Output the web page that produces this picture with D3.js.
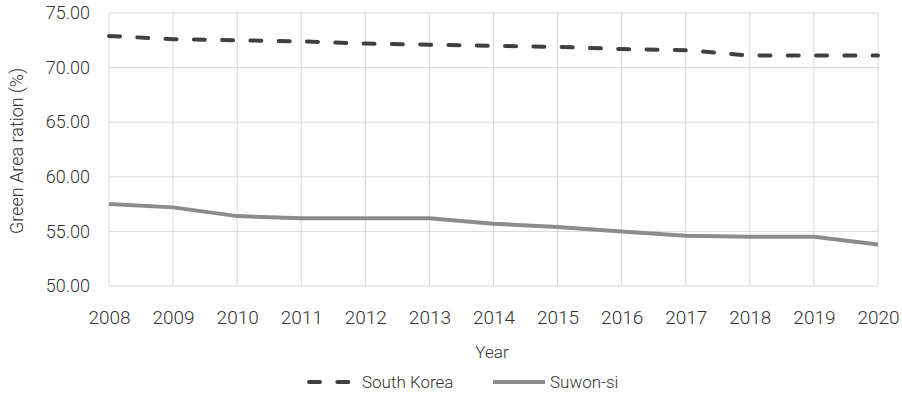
<!DOCTYPE html>
<html>
<head>
<meta charset="utf-8">
<script src="https://cdn.jsdelivr.net/npm/d3@7"></script>
<style>
  body { margin: 0; background: #fff; }
  text { font-family: Roboto, sans-serif; font-weight: 300; fill: #333; }
</style>
</head>
<body>
<div id="chart"></div>
<script>
// chart data
var years = [2008, 2009, 2010, 2011, 2012, 2013, 2014, 2015, 2016, 2017, 2018, 2019, 2020];
var southKorea = [72.9, 72.6, 72.5, 72.4, 72.2, 72.1, 72.0, 71.9, 71.7, 71.6, 71.1, 71.1, 71.1];
var suwon = [57.5, 57.2, 56.4, 56.2, 56.2, 56.2, 55.7, 55.4, 55.0, 54.6, 54.5, 54.5, 53.8];
var yTicks = [50, 55, 60, 65, 70, 75];

var svgWidth = 902;
var svgHeight = 396;

var margin = { top: 13, right: 24, bottom: 110, left: 109 };
var chartWidth = svgWidth - margin.left - margin.right;
var chartHeight = svgHeight - margin.top - margin.bottom;

var svg = d3.select("#chart")
  .append("svg")
  .attr("width", svgWidth)
  .attr("height", svgHeight);

var chartGroup = svg.append("g")
  .attr("transform", `translate(${margin.left}, ${margin.top})`);

var x = d3.scaleLinear()
  .domain([years[0], years[years.length - 1]])
  .range([0, chartWidth]);

var y = d3.scaleLinear()
  .domain([50, 75])
  .range([chartHeight, 0]);

// gridlines
chartGroup.append("g")
  .selectAll("line.h")
  .data(yTicks)
  .enter()
  .append("line")
  .attr("x1", 0)
  .attr("x2", chartWidth)
  .attr("y1", d => y(d))
  .attr("y2", d => y(d))
  .attr("stroke", "#d9d9d9")
  .attr("stroke-width", 1);

chartGroup.append("g")
  .selectAll("line.v")
  .data(years)
  .enter()
  .append("line")
  .attr("x1", d => x(d))
  .attr("x2", d => x(d))
  .attr("y1", 0)
  .attr("y2", chartHeight)
  .attr("stroke", "#d9d9d9")
  .attr("stroke-width", 1);

// axes
var leftAxis = d3.axisLeft(y).tickValues(yTicks).tickFormat(d3.format(".2f")).tickSize(0).tickPadding(19);
var bottomAxis = d3.axisBottom(x).tickValues(years).tickFormat(d3.format("d")).tickSize(0).tickPadding(25);

var yAxisG = chartGroup.append("g").call(leftAxis);
yAxisG.select(".domain").remove();
yAxisG.selectAll("text")
  .attr("font-size", "18px")
  .attr("font-family", "Roboto, sans-serif")
  .attr("fill", "#333");

var xAxisG = chartGroup.append("g")
  .attr("transform", `translate(0, ${chartHeight})`)
  .call(bottomAxis);
xAxisG.select(".domain").remove();
xAxisG.selectAll("text")
  .attr("font-size", "19px")
  .attr("font-family", "Roboto, sans-serif")
  .attr("fill", "#333");

// lines
var line = d3.line()
  .x((d, i) => x(years[i]))
  .y(d => y(d));

chartGroup.append("path")
  .datum(suwon)
  .attr("d", line)
  .attr("fill", "none")
  .attr("stroke", "#8c8c8c")
  .attr("stroke-width", 4);

chartGroup.append("path")
  .datum(southKorea)
  .attr("d", line)
  .attr("fill", "none")
  .attr("stroke", "#404040")
  .attr("stroke-width", 4)
  .attr("stroke-linecap", "round")
  .attr("stroke-dasharray", "11,17.3");

// axis titles
svg.append("text")
  .attr("x", 492)
  .attr("y", 358)
  .attr("text-anchor", "middle")
  .attr("font-size", "17px")
  .text("Year");

svg.append("text")
  .attr("transform", `translate(23, 151) rotate(-90)`)
  .attr("text-anchor", "middle")
  .attr("font-size", "18px")
  .text("Green Area ration (%)");

// legend
var legend = svg.append("g");
legend.append("line")
  .attr("x1", 309).attr("x2", 352)
  .attr("y1", 382).attr("y2", 382)
  .attr("stroke", "#404040")
  .attr("stroke-width", 4)
  .attr("stroke-linecap", "round")
  .attr("stroke-dasharray", "11,17.3");
legend.append("text")
  .attr("x", 362).attr("y", 388)
  .attr("font-size", "17px")
  .text("South Korea");
legend.append("line")
  .attr("x1", 493).attr("x2", 545)
  .attr("y1", 382).attr("y2", 382)
  .attr("stroke", "#8c8c8c")
  .attr("stroke-width", 4);
legend.append("text")
  .attr("x", 550).attr("y", 388)
  .attr("font-size", "17px")
  .text("Suwon-si");
</script>
</body>
</html>
